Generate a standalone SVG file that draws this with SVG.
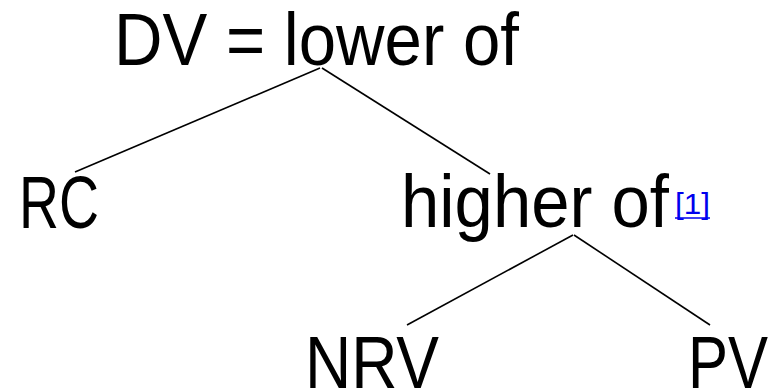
<svg xmlns="http://www.w3.org/2000/svg" width="769" height="392" viewBox="0 0 769 392">
<style>
.t{font-family:"Liberation Sans",Arial,sans-serif;font-size:74px;fill:#000}
.c{stroke:#000;stroke-width:1.6;fill:none}
.ref{font-family:"Liberation Sans",Arial,sans-serif;font-size:30px;fill:#0000ee}
</style>
<rect width="769" height="392" fill="#fff"/>
<g id="connectors">
<line class="c" x1="320" y1="68" x2="75" y2="172"/>
<line class="c" x1="322" y1="68" x2="490" y2="174"/>
<line class="c" x1="573" y1="235" x2="407" y2="325"/>
<line class="c" x1="574" y1="235" x2="710" y2="325"/>
</g>
<g id="dv"><text class="t" x="114" y="65" textLength="405" lengthAdjust="spacingAndGlyphs">DV = lower of</text></g>
<g id="rc"><text class="t" x="19" y="228" textLength="80" lengthAdjust="spacingAndGlyphs">RC</text></g>
<g id="higher"><text class="t" x="401" y="227" textLength="268" lengthAdjust="spacingAndGlyphs">higher of</text>
<text class="ref" x="675" y="214" textLength="35" lengthAdjust="spacingAndGlyphs">[1]</text>
<line x1="675" y1="218" x2="710" y2="218" stroke="#0000ee" stroke-width="1.3"/></g>
<g id="nrv"><text class="t" x="305" y="388" textLength="134" lengthAdjust="spacingAndGlyphs">NRV</text></g>
<g id="pv"><text class="t" x="688" y="388" textLength="80" lengthAdjust="spacingAndGlyphs">PV</text></g>
</svg>
